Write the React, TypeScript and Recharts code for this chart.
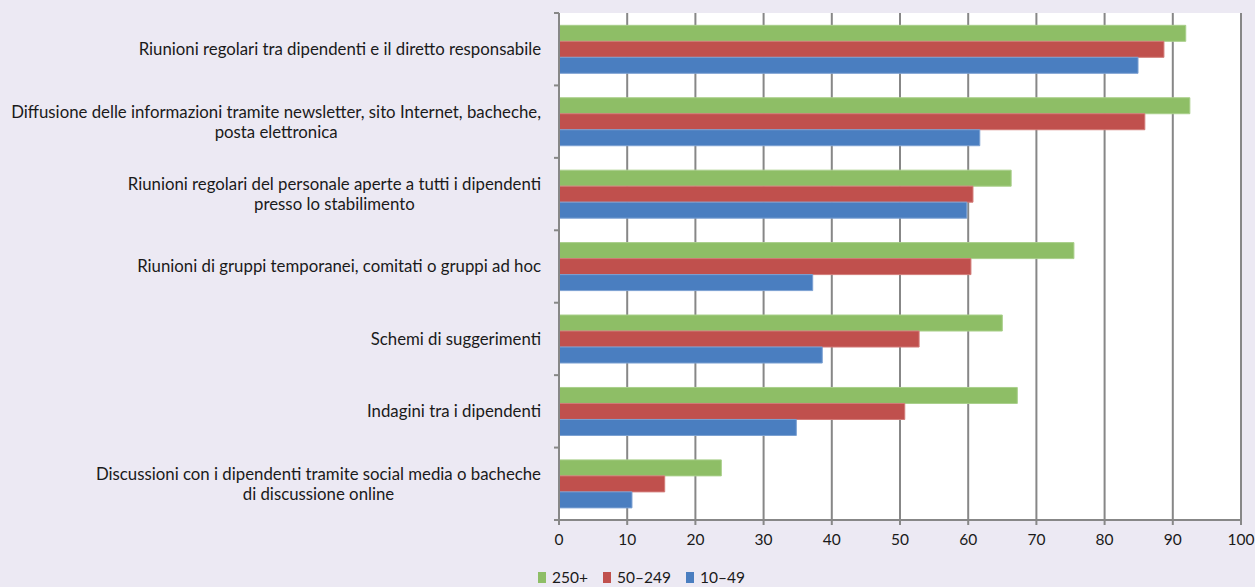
import React from 'react';
import { BarChart, Bar, XAxis, YAxis, CartesianGrid, Legend } from 'recharts';

// Quota di stabilimenti (%) per dimensione
const categories = [
    ['Riunioni regolari tra dipendenti e il diretto responsabile'],
    ['Diffusione delle informazioni tramite newsletter, sito Internet, bacheche,', 'posta elettronica'],
    ['Riunioni regolari del personale aperte a tutti i dipendenti', 'presso lo stabilimento'],
    ['Riunioni di gruppi temporanei, comitati o gruppi ad hoc'],
    ['Schemi di suggerimenti'],
    ['Indagini tra i dipendenti'],
    ['Discussioni con i dipendenti tramite social media o bacheche', 'di discussione online'],
];
const large = [91.9, 92.5, 66.3, 75.5, 65.0, 67.2, 23.8];
const medium = [88.7, 85.9, 60.7, 60.4, 52.8, 50.7, 15.5];
const small = [84.9, 61.7, 59.8, 37.2, 38.6, 34.8, 10.7];
const xTicks = [0, 10, 20, 30, 40, 50, 60, 70, 80, 90, 100];
const seriesNames = ['250+', '50–249', '10–49'];

const COLORS = ['#8EBE66', '#C0504D', '#4A7EC0'];
const STROKES = ['#A9CF8A', '#D27B78', '#7BA0D2'];
const FONT = 'Lato, "Open Sans", sans-serif';
const LABEL_SIZE = 16.8;
const GRID = '#878787';

const data = categories.map((lines, i) => ({
    name: lines.join(' '),
    lines,
    large: large[i],
    medium: medium[i],
    small: small[i],
}));

let ctx: CanvasRenderingContext2D | null = null;
const textWidth = (s: string) => {
    if (!ctx) ctx = document.createElement('canvas').getContext('2d');
    if (!ctx) return s.length * 7;
    ctx.font = `${LABEL_SIZE}px ${FONT}`;
    return ctx.measureText(s).width;
};

const CategoryTick = (props: any) => {
    const { x, y, payload, index } = props;
    const lines: string[] = data[index]?.lines || [payload.value];
    const half = payload.offset || 0;
    const widest = Math.max(...lines.map(textWidth));
    const cx = x - widest / 2;
    const lh = 20;
    const y0 = y - ((lines.length - 1) * lh) / 2;
    return (
        <g>
            <line x1={x + 13} x2={x + 18} y1={y - half} y2={y - half} stroke={GRID} strokeWidth={2} />
            {index === data.length - 1 && (
                <line x1={x + 13} x2={x + 18} y1={y + half} y2={y + half} stroke={GRID} strokeWidth={2} />
            )}
            {lines.map((l, i) => (
                <text
                    key={i}
                    x={lines.length > 1 ? cx : x}
                    y={y0 + i * lh}
                    dy="0.35em"
                    textAnchor={lines.length > 1 ? 'middle' : 'end'}
                    fontSize={LABEL_SIZE}
                    fontFamily={FONT}
                    fill="#1a1a1a"
                >
                    {l}
                </text>
            ))}
        </g>
    );
};

const LegendContent = () => (
    <div style={{ display: 'flex', alignItems: 'center', fontFamily: FONT, fontSize: 15.5, color: '#1a1a1a', height: 20 }}>
        {seriesNames.map((n, i) => (
            <span key={n} style={{ display: 'flex', alignItems: 'center', marginRight: 15 }}>
                <span style={{ width: 8, height: 11, background: COLORS[i], marginRight: 6, display: 'inline-block' }} />
                {n}
            </span>
        ))}
    </div>
);

export default function App() {
    return (
        <div style={{ position: 'fixed', left: 0, top: 0, width: 1255, height: 587, background: '#ECE9F3' }}>
            <BarChart
                width={1255}
                height={587}
                data={data}
                layout="vertical"
                margin={{ top: 13, right: 14, bottom: 0, left: 0 }}
                barCategoryGap="17%"
                barGap={0}
            >
                <CartesianGrid horizontal={false} stroke={GRID} strokeWidth={2} fill="#fff" verticalValues={xTicks} />
                <XAxis
                    type="number"
                    domain={[0, 100]}
                    ticks={xTicks}
                    height={47}
                    tickSize={5}
                    tickMargin={9}
                    stroke={GRID}
                    strokeWidth={2}
                    tick={{ fill: '#1a1a1a', fontSize: 15.5, fontFamily: FONT }}
                />
                <YAxis
                    type="category"
                    dataKey="name"
                    width={559}
                    tickSize={0}
                    tickMargin={18}
                    stroke={GRID}
                    strokeWidth={2}
                    tick={<CategoryTick />}
                    interval={0}
                />
                <Bar dataKey="large" name={seriesNames[0]} fill={COLORS[0]} stroke={STROKES[0]} isAnimationActive={false} />
                <Bar dataKey="medium" name={seriesNames[1]} fill={COLORS[1]} stroke={STROKES[1]} isAnimationActive={false} />
                <Bar dataKey="small" name={seriesNames[2]} fill={COLORS[2]} stroke={STROKES[2]} isAnimationActive={false} />
                <Legend
                    verticalAlign="bottom"
                    align="left"
                    height={20}
                    content={<LegendContent />}
                    wrapperStyle={{ left: 538, width: 'auto' }}
                />
            </BarChart>
        </div>
    );
}
